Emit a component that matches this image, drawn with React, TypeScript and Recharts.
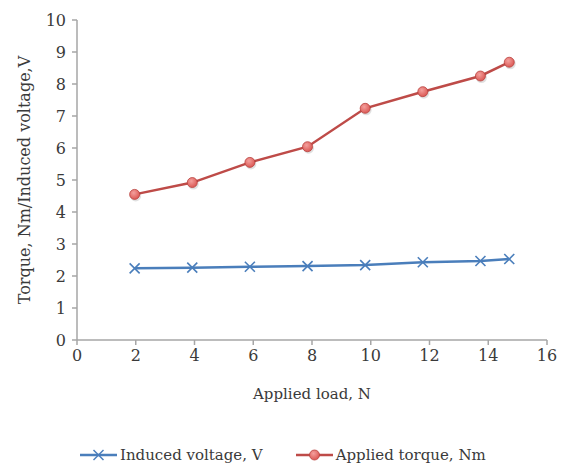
import { CartesianGrid, Legend, Line, LineChart, XAxis, YAxis } from "recharts";

const loadsN = [1.962, 3.924, 5.886, 7.848, 9.81, 11.772, 13.734, 14.715];
const inducedVoltage = [2.24, 2.26, 2.29, 2.31, 2.34, 2.43, 2.47, 2.53];
const appliedTorque = [4.55, 4.92, 5.55, 6.04, 7.24, 7.76, 8.25, 8.68];
const xTicks = [0, 2, 4, 6, 8, 10, 12, 14, 16];
const yTicks = [0, 1, 2, 3, 4, 5, 6, 7, 8, 9, 10];

const data = loadsN.map((load, i) => ({
  load,
  voltage: inducedVoltage[i],
  torque: appliedTorque[i],
}));

const FONT = "'DejaVu Serif', serif";
const TEXT = "#3a3a3a";
const AXIS = "#a6a6a6";
const BLUE = "#4a7ebb";
const RED = "#be4b48";

function CrossDot({ cx, cy }: { cx?: number; cy?: number }) {
  if (cx == null || cy == null) return null;
  const s = 5;
  return (
    <g stroke={BLUE} strokeWidth={1.6}>
      <line x1={cx - s} y1={cy - s} x2={cx + s} y2={cy + s} />
      <line x1={cx - s} y1={cy + s} x2={cx + s} y2={cy - s} />
    </g>
  );
}

function RoundDot({ cx, cy }: { cx?: number; cy?: number }) {
  if (cx == null || cy == null) return null;
  return (
    <g>
      <circle cx={cx + 1} cy={cy + 1.5} r={5.5} fill="#000" opacity={0.12} />
      <circle cx={cx} cy={cy} r={5} fill="url(#torqueDot)" stroke="#b9433f" strokeWidth={0.8} />
    </g>
  );
}

function ChartLegend() {
  const item = (label: string, color: string, marker: "x" | "o", gap: number) => (
    <span style={{ display: "inline-flex", alignItems: "center", marginRight: gap }}>
      <svg width={37} height={12} style={{ marginRight: 3 }}>
        <line x1={0} y1={6} x2={37} y2={6} stroke={color} strokeWidth={2.5} />
        {marker === "x" ? (
          <g stroke={color} strokeWidth={1.5}>
            <line x1={13.5} y1={1} x2={23.5} y2={11} />
            <line x1={13.5} y1={11} x2={23.5} y2={1} />
          </g>
        ) : (
          <circle cx={18.5} cy={6} r={5} fill="url(#torqueDot)" stroke="#b9433f" strokeWidth={0.8} />
        )}
      </svg>
      {label}
    </span>
  );
  return (
    <div
      style={{
        fontFamily: FONT,
        fontSize: 15,
        color: TEXT,
        whiteSpace: "nowrap",
        paddingLeft: 80,
        paddingTop: 13,
      }}
    >
      {item("Induced voltage, V", BLUE, "x", 33)}
      {item("Applied torque, Nm", RED, "o", 0)}
    </div>
  );
}

export default function App() {
  return (
    <div style={{ position: "absolute", left: 0, top: 0, width: 563, height: 463, background: "#fff" }}>
      <svg width={0} height={0} style={{ position: "absolute" }}>
        <defs>
          <radialGradient id="torqueDot" cx="40%" cy="35%" r="70%">
            <stop offset="0%" stopColor="#f4a09d" />
            <stop offset="100%" stopColor="#d9534f" />
          </radialGradient>
        </defs>
      </svg>
      <LineChart
        width={563}
        height={463}
        data={data}
        margin={{ top: 20, right: 16, left: 0, bottom: 0 }}
      >
        <CartesianGrid stroke="none" />
        <XAxis
          type="number"
          dataKey="load"
          domain={[0, 16]}
          ticks={xTicks}
          height={93}
          stroke={AXIS}
          strokeWidth={1.5}
          tickSize={5}
          tick={{ fill: TEXT, fontSize: 16, fontFamily: FONT }}
          tickMargin={5}
          label={{
            value: "Applied load, N",
            position: "insideTop",
            offset: 48,
            fill: TEXT,
            fontSize: 15,
            fontFamily: FONT,
          }}
        />
        <YAxis
          type="number"
          domain={[0, 10]}
          ticks={yTicks}
          width={77}
          stroke={AXIS}
          strokeWidth={1.5}
          tickSize={5}
          tickMargin={6}
          tick={{ fill: TEXT, fontSize: 16, fontFamily: FONT }}
          label={{
            value: "Torque, Nm/Induced voltage,V",
            angle: -90,
            position: "insideLeft",
            offset: 24,
            style: { textAnchor: "middle" },
            fill: TEXT,
            fontSize: 16,
            fontFamily: FONT,
          }}
        />
        <Legend verticalAlign="bottom" height={30} content={<ChartLegend />} />
        <Line
          type="linear"
          dataKey="voltage"
          name="Induced voltage, V"
          stroke={BLUE}
          strokeWidth={2.5}
          dot={<CrossDot />}
          activeDot={false}
          isAnimationActive={false}
        />
        <Line
          type="linear"
          dataKey="torque"
          name="Applied torque, Nm"
          stroke={RED}
          strokeWidth={2.5}
          dot={<RoundDot />}
          activeDot={false}
          isAnimationActive={false}
        />
      </LineChart>
    </div>
  );
}
